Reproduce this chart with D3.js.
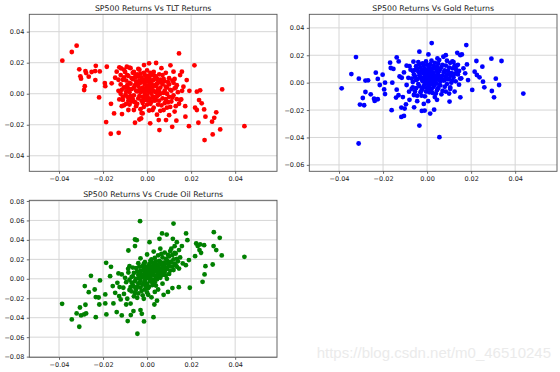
<!DOCTYPE html>
<html>
<head>
<meta charset="utf-8">
<script src="https://cdn.jsdelivr.net/npm/d3@7"></script>
<style>
  body { margin: 0; background: #fff; }
  svg { display: block; font-family: "DejaVu Sans", sans-serif; }
</style>
</head>
<body>
<div class="main-graph"></div>
<script>
// chart data
var titles = ["SP500 Returns Vs TLT Returns", "SP500 Returns Vs Gold Returns", "SP500 Returns Vs Crude Oil Returns"];
var xTicks = [-0.04, -0.02, 0, 0.02, 0.04];
var tltTicks = [-0.04, -0.02, 0, 0.02, 0.04];
var goldTicks = [-0.06, -0.04, -0.02, 0, 0.02, 0.04];
var oilTicks = [-0.08, -0.06, -0.04, -0.02, 0, 0.02, 0.04, 0.06, 0.08];

var tltPoints = [
  [-0.0385,0.0213],[-0.0342,0.0269],[-0.032,0.031],[-0.0308,0.0157],[-0.0303,0.0112],[-0.030,0.0097],
  [-0.028,0.0146],[-0.0277,0.0133],[-0.0283,0.0049],[-0.0286,0.0024],[-0.0265,0.011],[-0.0252,0.014],
  [-0.0233,0.018],[-0.0236,0.0146],[-0.0235,0.0088],[-0.0215,0.0144],[-0.0218,-0.0024],[-0.0192,0.0069],
  [-0.019,0.0049],[-0.0183,0.0174],[-0.0186,-0.0183],[-0.0165,-0.0258],[-0.0129,-0.0252],[-0.0164,-0.0065],
  [-0.015,-0.0127],[-0.0161,0.0067],[-0.0145,0.0103],[-0.0138,0.0142],[-0.0126,0.017],[-0.0118,0.0163],
  [-0.0092,0.0174],[-0.013,0.0019],[-0.0126,-0.0037],[-0.0115,-0.008],[-0.0114,-0.0131],[-0.0105,0.0041],
  [-0.0098,-0.0006],[-0.0085,-0.0105],[-0.008,-0.0037],[-0.0055,-0.0187],[-0.0035,-0.0166],[-0.0027,-0.0159],
  [-0.002,-0.0127],[0.0009,-0.0108],[0.0014,-0.0191],[0.0056,-0.0234],[0.0053,-0.017],[0.0086,-0.017],
  [0.010,-0.0138],[0.0114,-0.0213],[0.0133,-0.0174],[0.0145,0.026],[0.0158,0.0142],[0.015,0.012],
  [0.0106,0.0183],[0.012,0.0142],[0.0041,0.0198],[0.0009,0.0196],[-0.0014,0.0185],[-0.0052,0.012],
  [-0.008,0.0168],[0.0215,0.0183],[0.018,0.0088],[0.0192,0.0019],[0.0159,0.0019],[0.0155,-0.0037],
  [0.0173,-0.008],[0.019,-0.0209],[0.0174,-0.0148],[0.0218,-0.009],[0.0226,0.0013],[0.0241,0.0022],
  [0.0236,-0.0041],[0.0248,-0.0062],[0.0226,-0.0105],[0.0233,-0.0187],[0.0259,-0.0101],[0.0265,-0.0148],
  [0.0261,-0.0299],[0.0298,-0.0262],[0.0295,-0.018],[0.0314,-0.012],[0.0305,-0.0155],[0.0332,-0.023],
  [0.0341,0.0028],[0.0442,-0.0209],
  [-0.013,0.009],[-0.012,0.012],[-0.011,-0.002],[-0.0105,0.0155],[-0.0095,0.0085],[-0.009,0.0055],
  [-0.0085,-0.0045],[-0.0075,0.0165],[-0.0065,0.0095],[-0.006,-0.0105],[0.0125,0.0095],[0.0135,0.0055],
  [0.0145,-0.0065],[0.0165,0.0045],[0.0125,-0.0115],[0.0105,-0.0085],[0.0085,0.0135],[0.0065,0.0165],
  [-0.011,0.009],[-0.010,0.004],[-0.009,0.012],[-0.009,-0.002],[-0.008,0.007],[-0.008,0.001],
  [-0.007,0.010],[-0.007,-0.005],[-0.006,0.004],[-0.006,0.014],[-0.006,-0.001],[-0.005,0.008],
  [-0.005,0.002],[-0.005,-0.008],[-0.004,0.011],[-0.004,0.005],[-0.004,-0.003],[-0.004,0.016],
  [-0.003,0.007],[-0.003,0.001],[-0.003,-0.010],[-0.003,0.013],[-0.002,0.004],[-0.002,-0.002],
  [-0.002,0.009],[-0.002,-0.006],[-0.001,0.006],[-0.001,0.000],[-0.001,0.012],[-0.001,-0.004],
  [-0.001,0.003],[0.000,0.008],[0.000,0.002],[0.000,-0.001],[0.000,0.005],[0.000,-0.007],
  [0.000,0.015],[0.001,0.004],[0.001,0.010],[0.001,-0.003],[0.001,0.001],[0.001,0.007],
  [0.002,0.003],[0.002,-0.005],[0.002,0.012],[0.002,0.000],[0.002,0.006],[0.003,0.009],
  [0.003,-0.002],[0.003,0.002],[0.003,-0.009],[0.003,0.014],[0.004,0.005],[0.004,-0.004],
  [0.004,0.001],[0.004,0.011],[0.005,0.007],[0.005,-0.001],[0.005,0.003],[0.005,-0.007],
  [0.006,0.009],[0.006,0.000],[0.006,-0.011],[0.006,0.004],[0.007,0.006],[0.007,-0.003],
  [0.007,0.012],[0.008,0.002],[0.008,-0.006],[0.008,0.008],[0.009,0.000],[0.009,0.004],
  [0.009,-0.009],[0.010,0.006],[0.010,-0.002],[0.010,0.010],[0.011,0.002],[0.011,-0.005],
  [0.012,0.007],[0.012,-0.001],[0.013,0.004],[0.013,-0.008],[0.014,0.001],[0.015,-0.004],
  [-0.012,0.000],[-0.011,-0.004],[-0.010,0.014],[-0.008,-0.007],[-0.007,0.003],[-0.012,0.006],
  [-0.0025,0.0035],[-0.0015,0.0075],[0.0015,0.0025],[0.0025,0.0085],[0.0035,-0.0045],[-0.0035,0.0025],
  [0.0005,0.0045],[-0.0005,-0.0025],[0.0045,0.0065],[0.0055,0.0015],[-0.0045,0.0065],[0.0015,-0.0065],
  [-0.0115,0.0025],[-0.0105,0.0105],[-0.0095,0.0015],[-0.0095,-0.0065],[-0.0085,0.0115],[-0.0085,0.0035],
  [-0.0075,0.0065],[-0.0075,-0.0015],[-0.0065,0.0135],[-0.0065,-0.0035],[-0.0055,0.0055],[-0.0055,0.0105],
  [-0.0055,-0.0055],[-0.0045,0.0015],[-0.0045,0.0125],[-0.0045,-0.0065],[-0.0035,0.0085],[-0.0035,-0.0015],
  [-0.0035,0.0155],[-0.0025,0.0105],[-0.0025,-0.0045],[-0.0015,0.0015],[-0.0015,0.0135],[-0.0015,-0.0085],
  [-0.0005,0.0095],[-0.0005,0.0035],[0.0005,0.0115],[0.0005,-0.0045],[0.0015,0.0085],[0.0015,0.0135],
  [0.0025,0.0045],[0.0025,-0.0025],[0.0025,-0.0105],[0.0035,0.0115],[0.0035,0.0055],[0.0045,-0.0015],
  [0.0045,0.0095],[0.0055,0.0125],[0.0055,-0.0045],[0.0065,0.0075],[0.0065,-0.0075],[0.0075,0.0095],
  [0.0075,0.0005],[0.0085,0.0045],[0.0085,-0.0035],[0.0095,0.0075],[0.0095,-0.0055],[0.0105,0.0025],
  [0.0115,0.0085],[0.0115,-0.0025],[0.0125,0.0035],[0.0135,-0.0035],[-0.0105,-0.0075],[0.0075,-0.0105],
  [-0.0025,-0.0125],[0.0045,-0.0135]
];

var goldPoints = [
  [-0.0388,-0.0041],[-0.0344,0.0063],[-0.0323,0.0187],[-0.0311,-0.0444],[-0.031,0.0029],[-0.0305,-0.016],
  [-0.0292,-0.0112],[-0.0286,-0.0165],[-0.028,-0.0068],[-0.028,0.0015],[-0.0268,0.0017],[-0.0256,-0.0085],
  [-0.0241,-0.0117],[-0.0238,-0.0133],[-0.0233,0.0073],[-0.0224,-0.0121],[-0.0224,0.0027],[-0.0215,-0.0017],
  [-0.0202,0.0058],[-0.0195,-0.0049],[-0.0191,-0.0083],[-0.0191,0.0],[-0.0168,0.0146],[-0.0165,0.0107],
  [-0.0161,-0.0201],[-0.0153,0.010],[-0.0158,0.0],[-0.0138,0.0184],[-0.0129,0.0155],[-0.0138,-0.0051],
  [-0.0141,-0.0109],[-0.013,-0.0092],[-0.0117,-0.0182],[-0.0117,-0.025],[-0.0105,-0.0243],[-0.0102,-0.0189],
  [-0.0096,-0.0158],[-0.0093,0.0124],[-0.0115,0.0036],[-0.0093,-0.0017],[-0.0082,-0.0066],[-0.0062,0.0153],
  [-0.0056,0.0092],[-0.0059,-0.018],[-0.0035,0.0226],[-0.0035,-0.0313],[-0.0024,-0.0206],[-0.0011,-0.0204],
  [0.0014,-0.0226],[0.0032,-0.0197],[0.0021,0.0289],[0.0056,-0.0398],[0.0006,0.0206],[0.0047,0.0177],
  [0.0074,0.0189],[0.0085,0.0201],[0.0102,-0.0138],[0.0105,-0.0046],[0.0137,0.0218],[0.0151,0.0201],
  [0.0158,0.0206],[0.0178,0.0274],[0.0181,0.0133],[0.0173,0.0068],[0.0151,-0.0107],[0.0155,0.0032],
  [0.0186,0.0019],[0.0216,0.008],[0.0224,0.0158],[0.0226,0.0056],[0.0238,0.0039],[0.0251,0.0117],
  [0.0254,0.0007],[0.026,-0.0034],[0.0292,0.0175],[0.0294,-0.0061],[0.0304,-0.0107],[0.0312,0.0029],
  [0.0327,-0.0017],[0.0338,0.0158],[0.0437,-0.008],[0.0205,-0.0053],
  [-0.0125,0.0045],[-0.011,-0.0105],[-0.0105,0.0075],[-0.0085,0.0035],[-0.008,-0.0125],[-0.0075,0.0095],
  [-0.007,-0.0045],[-0.0065,0.0005],[0.0125,0.0125],[0.0135,0.0085],[0.0145,-0.0015],[0.0115,0.0155],
  [0.0125,-0.0065],[0.0165,0.0105],[-0.0045,-0.0135],[-0.0015,-0.0155],[0.0005,-0.0135],[0.0045,-0.0125],
  [-0.006,0.006],[-0.006,-0.009],[-0.005,0.012],[-0.005,0.002],[-0.005,-0.004],[-0.004,0.008],
  [-0.004,-0.001],[-0.004,0.015],[-0.003,0.004],[-0.003,-0.007],[-0.003,0.011],[-0.002,0.001],
  [-0.002,0.007],[-0.002,-0.004],[-0.002,0.014],[-0.001,0.005],[-0.001,-0.001],[-0.001,0.010],
  [-0.001,-0.010],[0.000,0.003],[0.000,0.008],[0.000,-0.004],[0.000,0.013],[0.000,0.000],
  [0.001,0.006],[0.001,-0.002],[0.001,0.011],[0.001,0.002],[0.001,-0.007],[0.002,0.004],
  [0.002,0.009],[0.002,-0.001],[0.002,0.016],[0.002,-0.005],[0.003,0.007],[0.003,0.001],
  [0.003,0.012],[0.003,-0.003],[0.004,0.005],[0.004,-0.008],[0.004,0.010],[0.004,0.000],
  [0.005,0.003],[0.005,0.014],[0.005,-0.004],[0.005,0.007],[0.006,0.001],[0.006,0.010],
  [0.006,-0.002],[0.007,0.005],[0.007,0.013],[0.007,-0.006],[0.008,0.002],[0.008,0.009],
  [0.008,-0.003],[0.009,0.006],[0.009,0.016],[0.009,-0.001],[0.010,0.011],[0.010,0.003],
  [0.010,-0.008],[0.011,0.007],[0.011,0.000],[0.012,0.004],[0.012,0.015],[0.013,0.010],
  [0.013,0.001],[0.014,0.006],[0.014,0.013],[0.015,0.003],[-0.007,0.003],[-0.008,0.012],
  [-0.0025,0.0025],[-0.0015,0.0085],[0.0015,0.0035],[0.0025,0.0065],[0.0035,0.0025],[-0.0035,0.0055],
  [0.0005,0.0015],[-0.0005,0.0065],[0.0045,0.0085],[0.0055,0.0045],[0.0065,0.0025],[0.0015,0.0005],
  [-0.0065,0.0085],[-0.0065,-0.0035],[-0.0055,0.0045],[-0.0055,-0.0065],[-0.0045,0.0105],[-0.0045,0.0025],
  [-0.0035,0.0135],[-0.0035,-0.0025],[-0.0035,0.0075],[-0.0025,0.0095],[-0.0025,-0.0055],[-0.0015,0.0035],
  [-0.0015,0.0125],[-0.0015,-0.0025],[-0.0005,0.0015],[-0.0005,0.0155],[-0.0005,-0.0065],[0.0005,0.0095],
  [0.0005,0.0055],[0.0005,-0.0015],[0.0015,0.0135],[0.0015,0.0075],[0.0015,-0.0045],[0.0025,0.0105],
  [0.0025,0.0015],[0.0025,-0.0075],[0.0035,0.0145],[0.0035,0.0045],[0.0035,-0.0015],[0.0045,0.0115],
  [0.0045,0.0025],[0.0045,-0.0055],[0.0055,0.0085],[0.0055,0.0165],[0.0055,-0.0015],[0.0065,0.0115],
  [0.0065,0.0045],[0.0075,0.0075],[0.0075,0.0015],[0.0085,0.0125],[0.0085,0.0045],[0.0095,0.0085],
  [0.0095,0.0025],[0.0105,0.0145],[0.0105,0.0055],[0.0115,0.0105],[0.0115,0.0015],[0.0125,0.0065],
  [0.0135,0.0125],[0.0145,0.0085],[-0.0025,-0.0095],[0.0035,-0.0105],[0.0065,-0.0085],[0.0085,-0.0065],
  [-0.0045,-0.0095],[0.0105,-0.0035]
];

var oilPoints = [
  [-0.0386,-0.0257],[-0.0342,-0.0418],[-0.032,-0.0356],[-0.0308,-0.0493],[-0.0305,-0.0295],[-0.030,-0.0377],
  [-0.0286,-0.0366],[-0.028,-0.0267],[-0.0283,-0.0075],[-0.0277,-0.0356],[-0.0265,-0.0137],[-0.0255,0.0031],
  [-0.0238,-0.011],[-0.0233,-0.0188],[-0.0233,-0.0394],[-0.022,-0.0192],[-0.0217,-0.0264],[-0.0214,-0.0017],
  [-0.019,-0.0161],[-0.0186,0.0164],[-0.019,-0.0253],[-0.0185,-0.0366],[-0.0164,0.0123],[-0.0168,0.0027],
  [-0.0156,-0.0075],[-0.0153,-0.0253],[-0.0145,-0.0144],[-0.0138,-0.0342],[-0.0135,-0.0041],[-0.013,0.0055],
  [-0.0127,-0.0178],[-0.012,-0.0212],[-0.0115,-0.0377],[-0.0108,-0.0092],[-0.010,0.001],[-0.0095,-0.0264],
  [-0.0088,-0.0435],[-0.0086,0.0103],[-0.0085,0.0291],[-0.008,0.013],[-0.0074,-0.0373],[-0.0062,-0.0332],
  [-0.0055,0.0336],[-0.0055,0.0404],[-0.0047,0.0397],[-0.0044,-0.0565],[-0.0032,0.0592],[-0.003,-0.0322],
  [-0.0024,-0.036],[-0.0014,-0.0438],[0.0011,0.0377],[0.0029,-0.0394],[0.0033,-0.0264],[0.0056,0.0411],
  [0.0068,0.0466],[0.0089,0.0455],[0.012,0.0568],[0.0117,0.0411],[0.0135,0.0377],[0.0158,0.0336],
  [0.0177,0.0466],[0.0183,0.0397],[0.0144,-0.0086],[0.0162,0.0158],[0.0176,0.014],[0.0194,-0.0092],
  [0.019,0.0192],[0.0218,0.0233],[0.0223,0.0363],[0.023,0.0336],[0.0238,0.0295],[0.0241,0.0353],
  [0.0245,0.0267],[0.0259,0.0346],[0.0252,-0.0031],[0.0261,0.0045],[0.0265,0.013],[0.0298,0.0147],
  [0.0303,0.0479],[0.0302,0.0336],[0.0314,0.0295],[0.033,0.0421],[0.0339,0.024],[0.0442,0.0226],
  [-0.0125,-0.0085],[-0.0115,0.0045],[-0.0105,-0.0155],[-0.0095,-0.0035],[-0.009,-0.0205],[-0.0085,0.0065],
  [-0.008,-0.0115],[-0.0075,-0.0255],[0.0105,0.0285],[0.0115,0.0245],[0.0125,0.0335],[0.0135,0.0205],
  [0.0145,0.0295],[0.0135,0.0125],[0.0115,-0.0095],[0.0095,-0.0135],[0.0075,-0.0165],[0.0045,-0.0225],
  [-0.007,-0.004],[-0.007,0.002],[-0.007,-0.013],[-0.006,0.006],[-0.006,-0.008],[-0.006,-0.018],
  [-0.005,0.000],[-0.005,0.011],[-0.005,-0.011],[-0.004,0.004],[-0.004,-0.005],[-0.004,0.016],
  [-0.004,-0.015],[-0.003,0.008],[-0.003,-0.002],[-0.003,-0.009],[-0.003,0.021],[-0.002,0.002],
  [-0.002,0.013],[-0.002,-0.006],[-0.002,-0.017],[-0.001,0.006],[-0.001,-0.002],[-0.001,0.017],
  [-0.001,-0.011],[0.000,0.003],[0.000,0.010],[0.000,-0.005],[0.000,0.025],[0.000,-0.014],
  [0.001,0.000],[0.001,0.008],[0.001,0.015],[0.001,-0.008],[0.002,0.004],[0.002,0.020],
  [0.002,-0.003],[0.002,0.011],[0.002,-0.019],[0.003,0.007],[0.003,0.014],[0.003,-0.001],
  [0.003,0.028],[0.004,0.010],[0.004,0.002],[0.004,0.018],[0.004,-0.007],[0.005,0.005],
  [0.005,0.013],[0.005,0.024],[0.005,-0.011],[0.006,0.009],[0.006,0.001],[0.006,0.017],
  [0.006,0.031],[0.007,0.012],[0.007,0.004],[0.007,0.022],[0.007,-0.005],[0.008,0.015],
  [0.008,0.007],[0.008,0.027],[0.009,0.010],[0.009,0.019],[0.009,0.000],[0.010,0.013],
  [0.010,0.023],[0.010,0.005],[0.011,0.017],[0.011,0.031],[0.012,0.009],[0.012,0.020],
  [0.013,0.014],[0.013,0.026],[0.014,0.018],[0.015,0.022],[-0.008,-0.001],[-0.0065,0.0115],
  [-0.0025,0.0045],[-0.0015,0.0095],[0.0015,0.0055],[0.0025,0.0125],[0.0035,0.0035],[-0.0035,0.0005],
  [0.0005,0.0015],[-0.0005,0.0125],[0.0045,0.0145],[0.0055,0.0075],[0.0065,0.0055],[0.0015,-0.0025],
  [-0.0065,-0.0065],[-0.0065,0.0025],[-0.0055,-0.0025],[-0.0055,-0.0145],[-0.0045,0.0075],[-0.0045,-0.0085],
  [-0.0035,-0.0045],[-0.0035,0.0125],[-0.0025,0.0015],[-0.0025,-0.0125],[-0.0025,0.0085],[-0.0015,-0.0045],
  [-0.0015,0.0035],[-0.0015,0.0155],[-0.0005,0.0065],[-0.0005,-0.0075],[-0.0005,0.0005],[0.0005,0.0125],
  [0.0005,0.0045],[0.0005,-0.0095],[0.0015,0.0095],[0.0015,0.0185],[0.0015,0.0015],[0.0025,0.0065],
  [0.0025,-0.0065],[0.0025,0.0165],[0.0035,0.0105],[0.0035,0.0215],[0.0035,-0.0035],[0.0045,0.0075],
  [0.0045,0.0135],[0.0045,-0.0005],[0.0055,0.0185],[0.0055,0.0105],[0.0055,0.0025],[0.0065,0.0145],
  [0.0065,0.0255],[0.0065,0.0065],[0.0075,0.0165],[0.0075,0.0085],[0.0085,0.0205],[0.0085,0.0115],
  [0.0085,0.0035],[0.0095,0.0155],[0.0095,0.0245],[0.0105,0.0085],[0.0105,0.0175],[0.0115,0.0125],
  [0.0125,0.0155],[0.0125,0.0265],[-0.0045,-0.0195],[-0.0015,-0.0205],[0.0005,-0.0165],[0.0035,-0.0135],
  [-0.0075,-0.0085],[0.0145,0.0105]
];

var panels = [
  {title: titles[0], points: tltPoints, yTicks: tltTicks, color: "#ff0000", left: 29.3, top: 14.3, yDomain: [-0.050, 0.0512]},
  {title: titles[1], points: goldPoints, yTicks: goldTicks, color: "#0000ff", left: 309.3, top: 14.3, yDomain: [-0.0647, 0.0499]},
  {title: titles[2], points: oilPoints, yTicks: oilTicks, color: "#008000", left: 29.3, top: 200.3, yDomain: [-0.0807, 0.0807]}
];

var width = 247.7, height = 157;

var svg = d3.select(".main-graph")
            .append("svg")
            .attr("width", 560)
            .attr("height", 372);

// watermark
svg.append("text")
   .attr("x", 551)
   .attr("y", 358)
   .attr("text-anchor", "end")
   .style("font-family", "'Liberation Sans', Arial, sans-serif")
   .style("font-size", "15px")
   .attr("fill", "#ebebeb")
   .text("https://blog.csdn.net/m0_46510245");

panels.forEach(function(p){
    var g = svg.append("g")
               .attr("transform", "translate(" + p.left + "," + p.top + ")");

    var x = d3.scaleLinear()
              .domain([-0.0535, 0.059])
              .range([0, width]);
    var y = d3.scaleLinear()
              .domain(p.yDomain)
              .range([height, 0]);

    // grid
    g.selectAll(".gx").data(xTicks).enter().append("line")
     .attr("x1", function(d){ return x(d); }).attr("x2", function(d){ return x(d); })
     .attr("y1", 0).attr("y2", height)
     .attr("stroke", "#d6d6d6").attr("stroke-width", 1);
    g.selectAll(".gy").data(p.yTicks).enter().append("line")
     .attr("x1", 0).attr("x2", width)
     .attr("y1", function(d){ return y(d); }).attr("y2", function(d){ return y(d); })
     .attr("stroke", "#d6d6d6").attr("stroke-width", 1);

    // points
    g.selectAll("circle").data(p.points).enter().append("circle")
     .attr("cx", function(d){ return x(d[0]); })
     .attr("cy", function(d){ return y(d[1]); })
     .attr("r", 2.4)
     .attr("fill", p.color);

    // axes
    var xa = g.append("g")
              .attr("transform", "translate(0," + height + ")")
              .call(d3.axisBottom(x).tickValues(xTicks).tickFormat(d3.format(".2f")).tickSize(2.5).tickSizeOuter(0).tickPadding(2.5));
    var ya = g.append("g")
              .call(d3.axisLeft(y).tickValues(p.yTicks).tickFormat(d3.format(".2f")).tickSize(2.5).tickSizeOuter(0).tickPadding(2.5));
    [xa, ya].forEach(function(a){
        a.select(".domain").remove();
        a.selectAll("text").style("font-size", "6.5px").style("font-family", "'DejaVu Sans', sans-serif").attr("fill", "#222");
        a.selectAll("line").attr("stroke", "#444").attr("stroke-width", 0.8);
    });

    // frame
    g.append("rect")
     .attr("width", width).attr("height", height)
     .attr("fill", "none").attr("stroke", "#555").attr("stroke-width", 0.9);

    g.append("text")
     .attr("x", width / 2)
     .attr("y", -3.5)
     .attr("text-anchor", "middle")
     .style("font-size", "7.8px")
     .attr("fill", "#222")
     .text(p.title);
});
</script>
</body>
</html>
